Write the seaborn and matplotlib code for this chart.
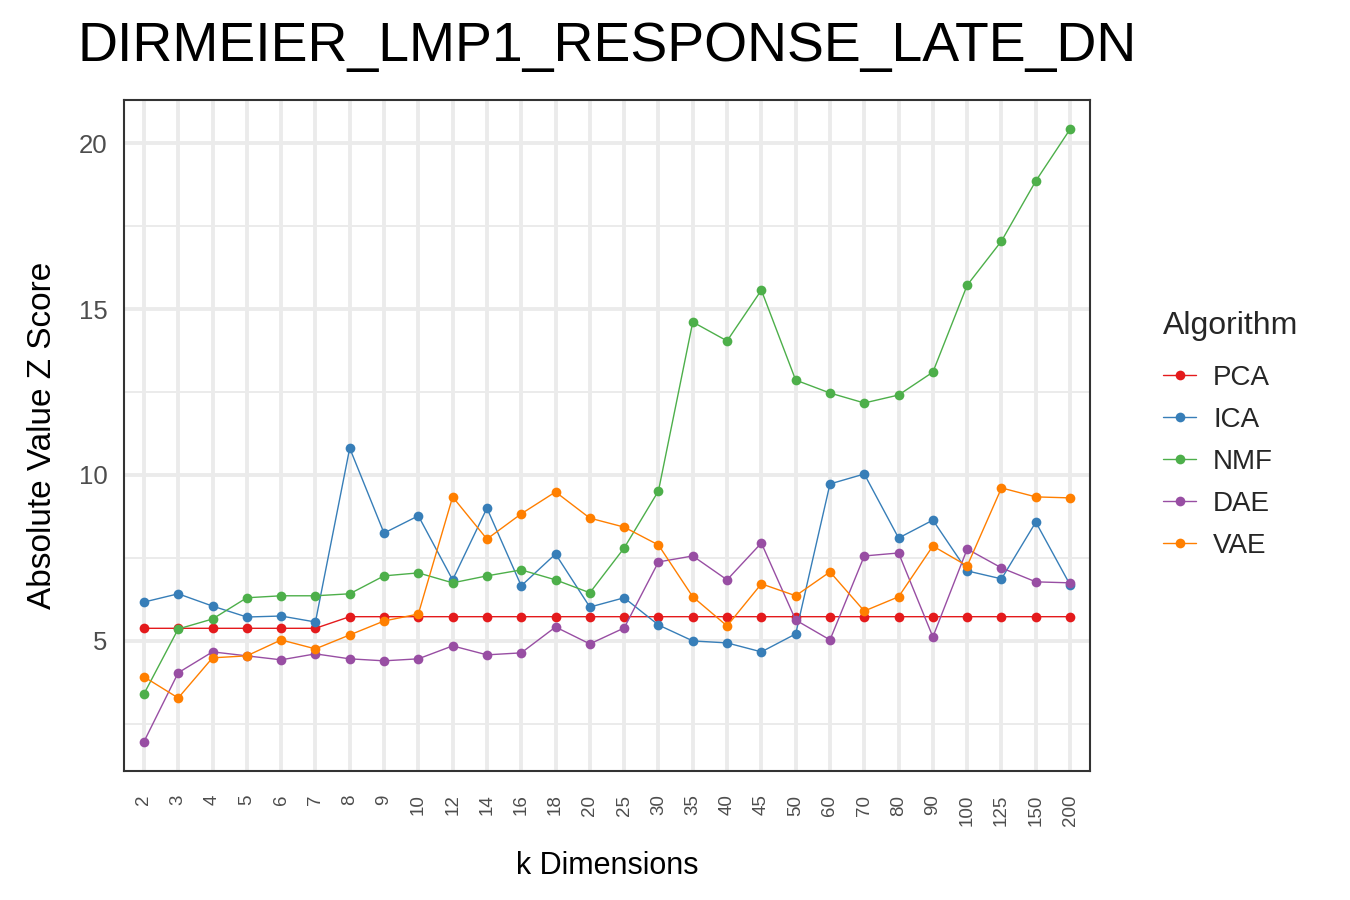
import matplotlib
matplotlib.use("Agg")
import matplotlib.pyplot as plt
import numpy as np
import pandas as pd
import seaborn as sns

k_dims = ['2', '3', '4', '5', '6', '7', '8', '9', '10', '12', '14', '16', '18', '20', '25',
          '30', '35', '40', '45', '50', '60', '70', '80', '90', '100', '125', '150', '200']
algorithms = ['PCA', 'ICA', 'NMF', 'DAE', 'VAE']
colors = ['#E41A1C', '#377EB8', '#4DAF4A', '#984EA3', '#FF7F00']

pca = [5.38, 5.38, 5.38, 5.38, 5.38, 5.38, 5.73, 5.73, 5.73, 5.73, 5.73, 5.73, 5.73, 5.73,
       5.73, 5.73, 5.73, 5.73, 5.73, 5.73, 5.73, 5.73, 5.73, 5.73, 5.73, 5.73, 5.73, 5.73]
ica = [6.17, 6.42, 6.05, 5.72, 5.75, 5.57, 10.81, 8.25, 8.77, 6.84, 9.0, 6.66, 7.62, 6.02,
       6.3, 5.48, 5.0, 4.94, 4.67, 5.21, 9.73, 10.03, 8.1, 8.64, 7.11, 6.87, 8.58, 6.69]
nmf = [3.40, 5.36, 5.66, 6.3, 6.36, 6.36, 6.42, 6.96, 7.05, 6.75, 6.96, 7.14, 6.84, 6.45,
       7.8, 9.52, 14.61, 14.04, 15.57, 12.86, 12.47, 12.17, 12.41, 13.1, 15.72, 17.05, 18.86, 20.42]
dae = [1.96, 4.04, 4.67, 4.55, 4.43, 4.61, 4.46, 4.40, 4.46, 4.85, 4.58, 4.64, 5.42, 4.91,
       5.39, 7.38, 7.56, 6.84, 7.95, 5.63, 5.03, 7.56, 7.65, 5.12, 7.77, 7.2, 6.78, 6.75]
vae = [3.92, 3.28, 4.49, 4.55, 5.03, 4.76, 5.18, 5.6, 5.81, 9.34, 8.07, 8.83, 9.49, 8.70,
       8.43, 7.89, 6.33, 5.45, 6.72, 6.36, 7.08, 5.90, 6.33, 7.86, 7.26, 9.61, 9.34, 9.31]

rows = []
for alg, vals in zip(algorithms, [pca, ica, nmf, dae, vae]):
    for i, v in enumerate(vals):
        rows.append({'pos': i, 'k': k_dims[i], 'z': v, 'Algorithm': alg})
df = pd.DataFrame(rows)

sns.set_style('white')
plt.rcParams['font.family'] = ['Liberation Sans', 'DejaVu Sans']

fig = plt.figure(figsize=(13.5, 9), dpi=100)
ax = fig.add_axes([124 / 1350, 129 / 900, 966 / 1350, 671 / 900])

# grid like ggplot theme_bw
for v in [2.5, 7.5, 12.5, 17.5]:
    ax.axhline(v, color='#EBEBEB', lw=1.4, zorder=0)
for v in [5, 10, 15, 20]:
    ax.axhline(v, color='#EBEBEB', lw=2.8, zorder=0)
for i in range(len(k_dims)):
    ax.axvline(i, color='#EBEBEB', lw=2.8, zorder=0)

sns.lineplot(data=df, x='pos', y='z', hue='Algorithm', hue_order=algorithms,
             palette=colors, marker='o', markersize=7, markeredgewidth=0,
             linewidth=1.0, ax=ax, legend=True)

ax.set_xlim(-0.58, len(k_dims) - 1 + 0.58)
ax.set_ylim(1.08, 21.3)
ax.set_xticks(range(len(k_dims)))
ax.set_xticklabels(k_dims, rotation=90, fontsize=13.5, color='#4D4D4D')
ax.set_yticks([5, 10, 15, 20])
ax.set_yticklabels(['5', '10', '15', '20'], fontsize=18.5, color='#4D4D4D')
ax.tick_params(axis='both', direction='out', length=7, width=1.5, color='#333333')
ax.tick_params(axis='x', pad=10)
ax.tick_params(axis='y', pad=5)

for s in ax.spines.values():
    s.set_visible(True)
    s.set_color('#333333')
    s.set_linewidth(1.5)

ax.set_xlabel('k Dimensions', fontsize=22, labelpad=18, color='black')
ax.set_ylabel('Absolute Value Z Score', fontsize=24, labelpad=15, color='black')
fig.text(78 / 1350, 1 - 47 / 900, 'DIRMEIER_LMP1_RESPONSE_LATE_DN', fontsize=39.9,
         ha='left', va='center', color='black')

leg = ax.legend(title='Algorithm', loc='upper left',
                bbox_to_anchor=(1163 / 1350, 1 - 311 / 900), bbox_transform=fig.transFigure,
                frameon=False, fontsize=20, title_fontsize=23, handlelength=1.2,
                handletextpad=0.6, labelspacing=0.58, borderpad=0, borderaxespad=0)
leg._legend_box.align = 'left'
leg._legend_box.sep = 17

fig.savefig('out.png', dpi=100)
